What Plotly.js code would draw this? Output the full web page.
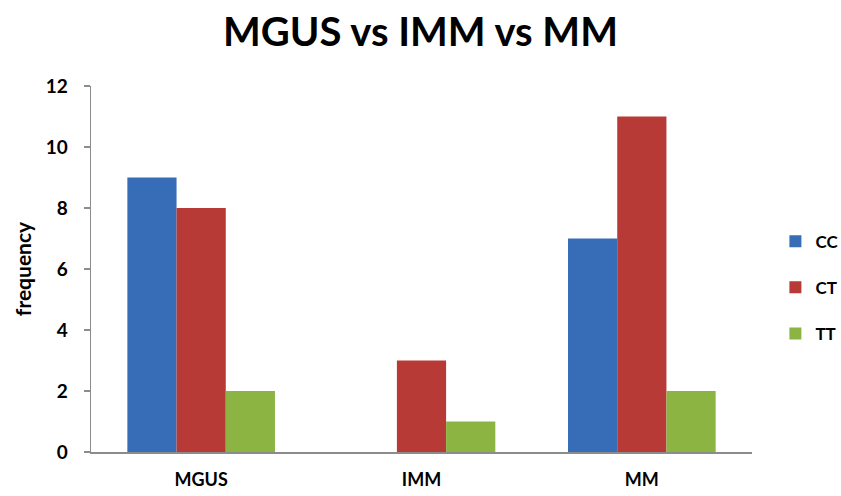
<!DOCTYPE html>
<html>
<head>
<meta charset="utf-8">
<script src="https://cdn.plot.ly/plotly-3.0.1.min.js"></script>
<style>html,body{margin:0;padding:0;background:#fff;}#chart{width:841px;height:496px;}</style>
</head>
<body>
<div id="chart"></div>
<script>
const categories = ["MGUS", "IMM", "MM"];
const ccValues = [9, 0, 7];
const ctValues = [8, 3, 11];
const ttValues = [2, 1, 2];
const seriesNames = ["CC", "CT", "TT"];
const yTicks = [0, 2, 4, 6, 8, 10, 12];

const colors = ["#366db6", "#b73a36", "#8bb443"];
const values = [ccValues, ctValues, ttValues];

const traces = seriesNames.map((name, i) => ({
  type: "bar",
  name: name,
  legendgroup: name,
  x: categories,
  y: values[i],
  marker: { color: colors[i], line: { width: 0 } },
  hoverinfo: "x+y+name"
}));

const font = "Lato, 'Open Sans', sans-serif";

const layout = {
  width: 841,
  height: 496,
  margin: { l: 91, r: 89, t: 86, b: 44, autoexpand: false },
  paper_bgcolor: "#ffffff",
  plot_bgcolor: "#ffffff",
  barmode: "group",
  bargap: 0.33,
  bargroupgap: 0,
  showlegend: true,
  title: {
    text: "<b>MGUS vs IMM vs MM</b>",
    font: { family: font, size: 40, color: "#000" },
    x: 0.5, xanchor: "center", y: 0.935, yanchor: "middle"
  },
  xaxis: {
    type: "category",
    showline: true, linecolor: "#8c8c8c", linewidth: 1.5,
    ticks: "", showgrid: false, zeroline: false,
    tickfont: { family: font, size: 18, color: "#000", weight: "bold" },
    ticklabelstandoff: 11
  },
  yaxis: {
    range: [0, 12],
    tickvals: yTicks,
    ticktext: yTicks.map(String),
    showline: true, linecolor: "#8c8c8c", linewidth: 1.5,
    ticks: "outside", ticklen: 6, tickcolor: "#8c8c8c", tickwidth: 1.5,
    showgrid: false, zeroline: false,
    ticklabelstandoff: 12,
    tickfont: { family: font, size: 19, color: "#000", weight: "bold" },
    title: { text: "<b>frequency</b>", font: { family: font, size: 21, color: "#000" }, standoff: 8 }
  },
  legend: {
    xref: "container", yref: "container",
    x: 0.922, xanchor: "left", y: 0.42, yanchor: "middle",
    font: { family: font, size: 17, color: "#000", weight: "bold" },
    itemwidth: 30, tracegroupgap: 21,
    traceorder: "grouped",
    bgcolor: "rgba(0,0,0,0)"
  }
};

Plotly.newPlot("chart", traces, layout, { displayModeBar: false, staticPlot: true });
</script>
</body>
</html>
